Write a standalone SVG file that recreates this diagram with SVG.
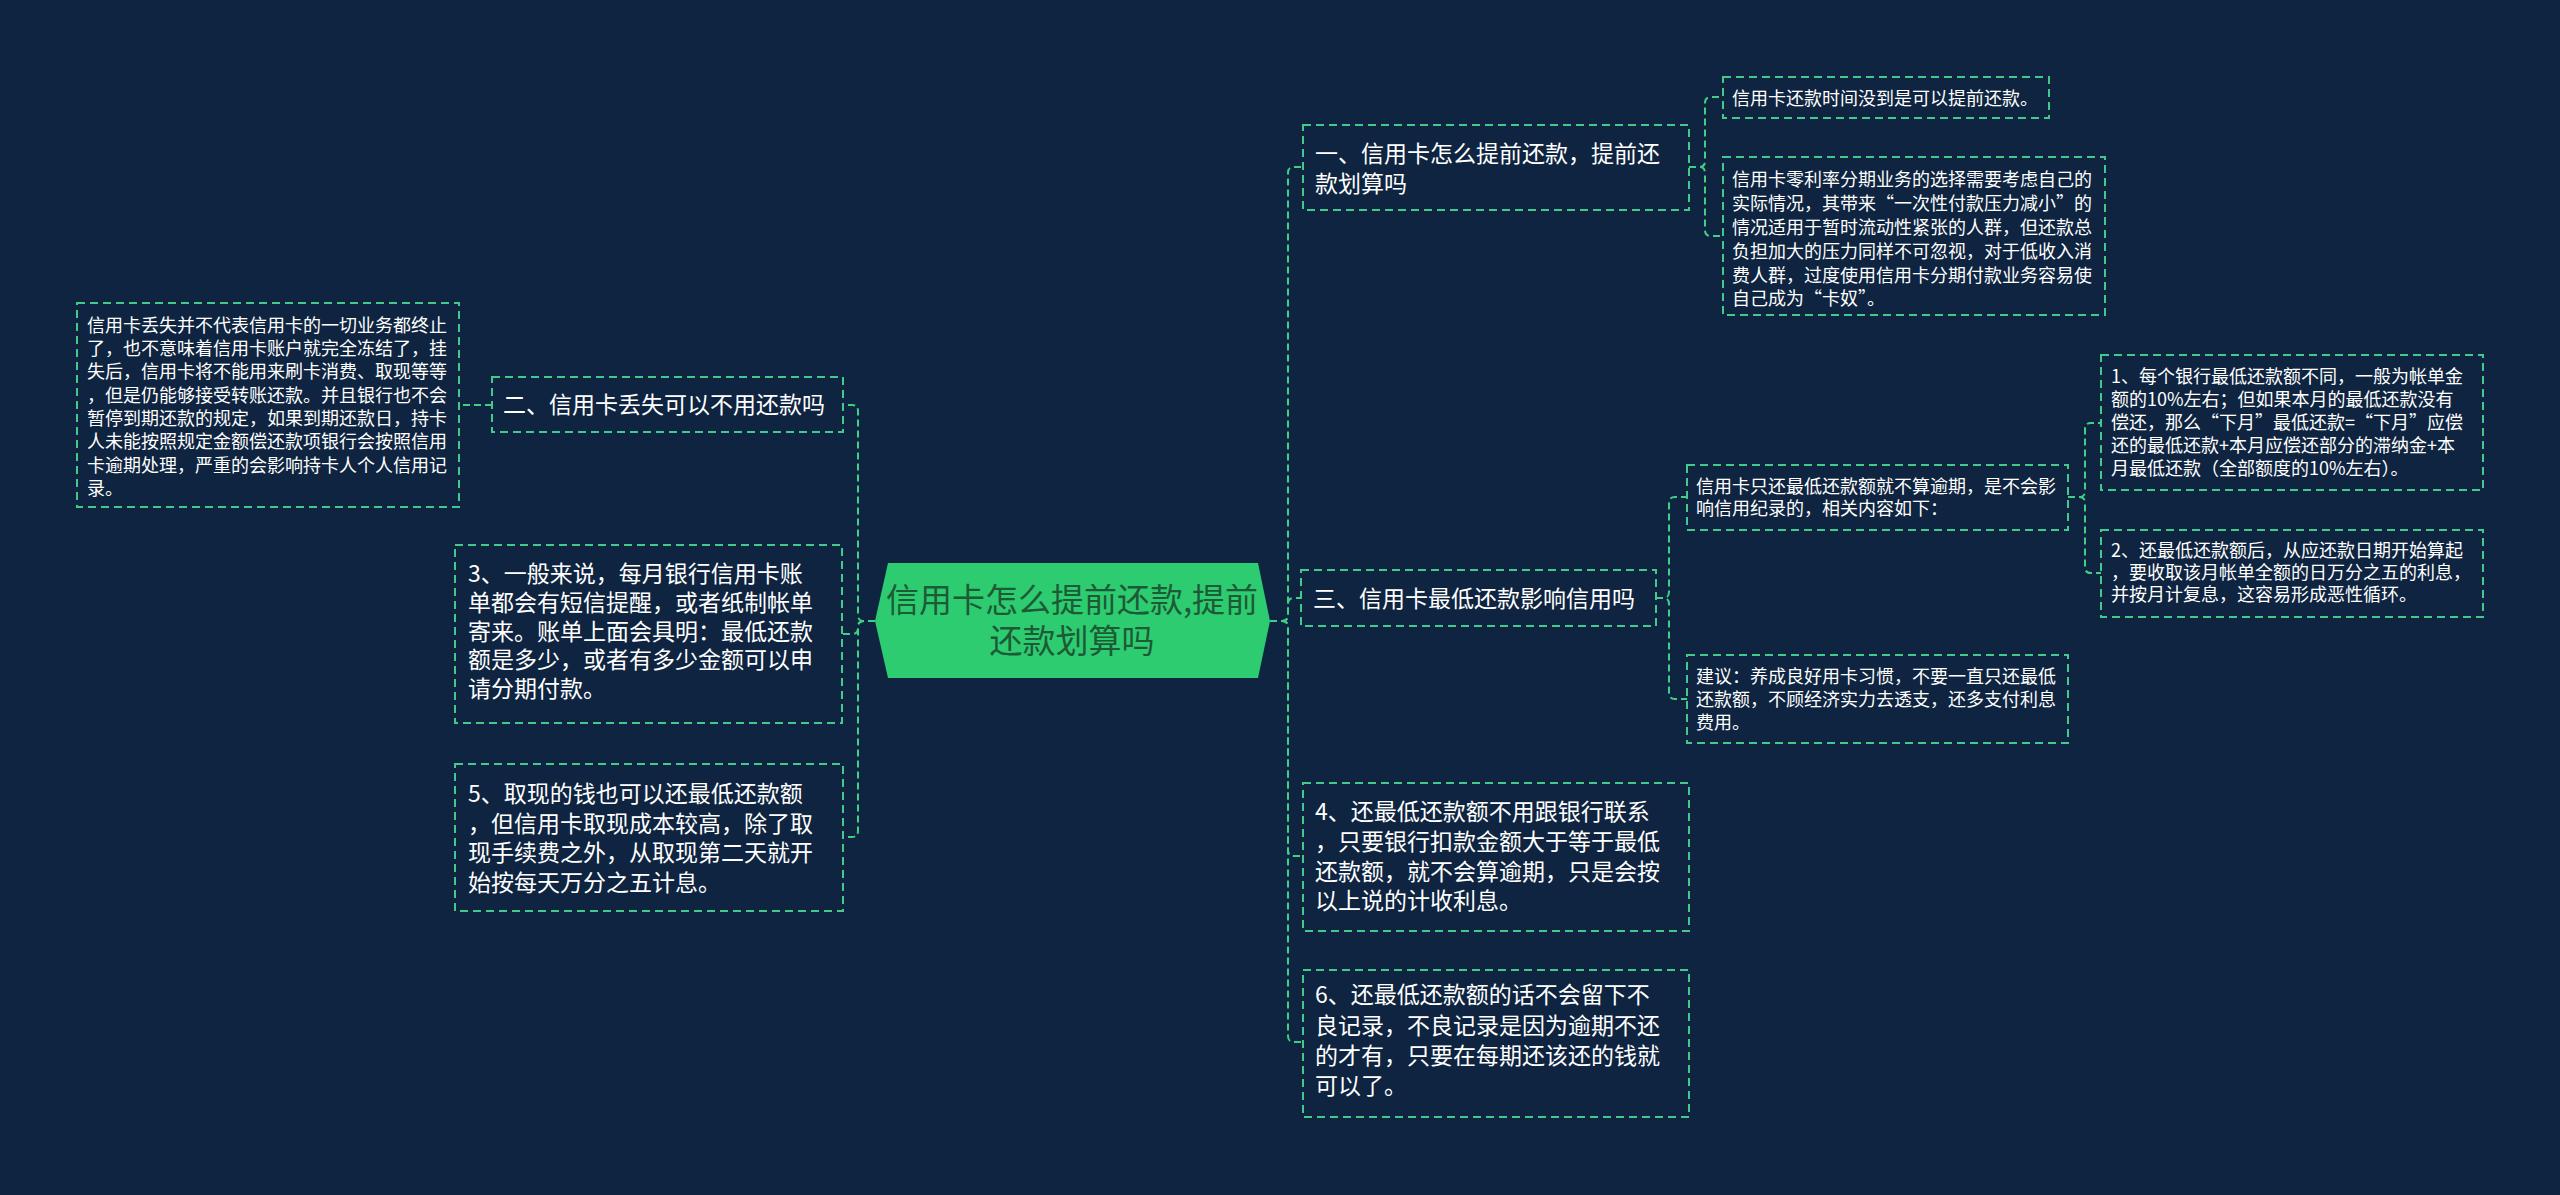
<svg xmlns="http://www.w3.org/2000/svg" width="2560" height="1195" viewBox="0 0 2560 1195">
<style>
.box{fill:#0e2440;stroke:#43c98a;stroke-width:2;stroke-dasharray:8 5}
.con{fill:none;stroke:#3fcf85;stroke-width:2;stroke-dasharray:7 4}
text{font-family:"Noto Sans CJK SC","Noto Sans",sans-serif;fill:#ffffff}
.t23{font-size:23px}
.t18{font-size:18px}
.ctr{font-size:33px;fill:#1d5a36;text-anchor:middle}
</style>
<rect x="0" y="0" width="2560" height="1195" fill="#0e2440"/>
<g id="connectors">
<path class="con" d="M875,621 H864 Q858,621 858,615 V411 Q858,405 852,405 H843"/>
<path class="con" d="M875,621 H864 Q858,621 858,627 V628 Q858,634 852,634 H842"/>
<path class="con" d="M875,621 H864 Q858,621 858,627 V831 Q858,837 852,837 H843"/>
<path class="con" d="M492,405 H459"/>
<path class="con" d="M1270,621 H1282 Q1288,621 1288,615 V173 Q1288,167 1294,167 H1303"/>
<path class="con" d="M1270,621 H1282 Q1288,621 1288,615 V604 Q1288,598 1294,598 H1301"/>
<path class="con" d="M1270,621 H1282 Q1288,621 1288,627 V850 Q1288,856 1294,856 H1303"/>
<path class="con" d="M1270,621 H1282 Q1288,621 1288,627 V1036 Q1288,1042 1294,1042 H1303"/>
<path class="con" d="M1689,167 H1699 Q1705,167 1705,161 V103 Q1705,97 1711,97 H1723"/>
<path class="con" d="M1689,167 H1699 Q1705,167 1705,173 V230 Q1705,236 1711,236 H1723"/>
<path class="con" d="M1656,598 H1663 Q1669,598 1669,592 V503 Q1669,497 1675,497 H1687"/>
<path class="con" d="M1656,598 H1663 Q1669,598 1669,604 V693 Q1669,699 1675,699 H1687"/>
<path class="con" d="M2068,497 H2079 Q2085,497 2085,491 V429 Q2085,423 2091,423 H2101"/>
<path class="con" d="M2068,497 H2079 Q2085,497 2085,503 V567 Q2085,573 2091,573 H2101"/>
</g>
<g id="center">
<polygon points="875,621 888,563 1258,563 1270,621 1258,678 888,678" fill="#2ecc71"/>
<text class="ctr" x="1072" y="612">信用卡怎么提前还款,提前</text>
<text class="ctr" x="1072" y="653">还款划算吗</text>
</g>
<g id="n2">
<rect class="box" x="492" y="377" width="351" height="55"/>
<text class="t23" x="503" y="413">二、信用卡丢失可以不用还款吗</text>
</g>
<g id="n2a">
<rect class="box" x="77" y="303" width="382" height="204"/>
<text class="t18" x="87"><tspan x="87" y="332">信用卡丢失并不代表信用卡的一切业务都终止</tspan><tspan x="87" y="355">了，也不意味着信用卡账户就完全冻结了，挂</tspan><tspan x="87" y="378">失后，信用卡将不能用来刷卡消费、取现等等</tspan><tspan x="87" y="402">，但是仍能够接受转账还款。并且银行也不会</tspan><tspan x="87" y="425">暂停到期还款的规定，如果到期还款日，持卡</tspan><tspan x="87" y="448">人未能按照规定金额偿还款项银行会按照信用</tspan><tspan x="87" y="472">卡逾期处理，严重的会影响持卡人个人信用记</tspan><tspan x="87" y="495">录。</tspan></text>
</g>
<g id="n3">
<rect class="box" x="455" y="545" width="387" height="178"/>
<text class="t23"><tspan x="468" y="582">3、一般来说，每月银行信用卡账</tspan><tspan x="468" y="611">单都会有短信提醒，或者纸制帐单</tspan><tspan x="468" y="640">寄来。账单上面会具明：最低还款</tspan><tspan x="468" y="668">额是多少，或者有多少金额可以申</tspan><tspan x="468" y="697">请分期付款。</tspan></text>
</g>
<g id="n5">
<rect class="box" x="455" y="764" width="388" height="147"/>
<text class="t23"><tspan x="468" y="802">5、取现的钱也可以还最低还款额</tspan><tspan x="468" y="832">，但信用卡取现成本较高，除了取</tspan><tspan x="468" y="861">现手续费之外，从取现第二天就开</tspan><tspan x="468" y="891">始按每天万分之五计息。</tspan></text>
</g>
<g id="n1">
<rect class="box" x="1303" y="125" width="386" height="85"/>
<text class="t23"><tspan x="1315" y="162">一、信用卡怎么提前还款，提前还</tspan><tspan x="1315" y="192">款划算吗</tspan></text>
</g>
<g id="n1a">
<rect class="box" x="1723" y="77" width="326" height="41"/>
<text class="t18" x="1732" y="105">信用卡还款时间没到是可以提前还款。</text>
</g>
<g id="n1b">
<rect class="box" x="1723" y="157" width="382" height="158"/>
<text class="t18"><tspan x="1732" y="186">信用卡零利率分期业务的选择需要考虑自己的</tspan><tspan x="1732" y="210">实际情况，其带来“一次性付款压力减小”的</tspan><tspan x="1732" y="234">情况适用于暂时流动性紧张的人群，但还款总</tspan><tspan x="1732" y="258">负担加大的压力同样不可忽视，对于低收入消</tspan><tspan x="1732" y="282">费人群，过度使用信用卡分期付款业务容易使</tspan><tspan x="1732" y="305">自己成为“卡奴”。</tspan></text>
</g>
<g id="n3r">
<rect class="box" x="1301" y="570" width="355" height="56"/>
<text class="t23" x="1313" y="607">三、信用卡最低还款影响信用吗</text>
</g>
<g id="n3ra">
<rect class="box" x="1687" y="465" width="381" height="65"/>
<text class="t18"><tspan x="1696" y="493">信用卡只还最低还款额就不算逾期，是不会影</tspan><tspan x="1696" y="515">响信用纪录的，相关内容如下：</tspan></text>
</g>
<g id="n3rb">
<rect class="box" x="1687" y="655" width="381" height="88"/>
<text class="t18"><tspan x="1696" y="683">建议：养成良好用卡习惯，不要一直只还最低</tspan><tspan x="1696" y="706">还款额，不顾经济实力去透支，还多支付利息</tspan><tspan x="1696" y="729">费用。</tspan></text>
</g>
<g id="g1">
<rect class="box" x="2101" y="355" width="382" height="135"/>
<text class="t18"><tspan x="2111" y="383">1、每个银行最低还款额不同，一般为帐单金</tspan><tspan x="2111" y="406">额的10%左右；但如果本月的最低还款没有</tspan><tspan x="2111" y="429">偿还，那么“下月”最低还款=“下月”应偿</tspan><tspan x="2111" y="452">还的最低还款+本月应偿还部分的滞纳金+本</tspan><tspan x="2111" y="475">月最低还款（全部额度的10%左右）。</tspan></text>
</g>
<g id="g2">
<rect class="box" x="2101" y="530" width="382" height="87"/>
<text class="t18"><tspan x="2111" y="557">2、还最低还款额后，从应还款日期开始算起</tspan><tspan x="2111" y="579">，要收取该月帐单全额的日万分之五的利息，</tspan><tspan x="2111" y="601">并按月计复息，这容易形成恶性循环。</tspan></text>
</g>
<g id="n4">
<rect class="box" x="1303" y="783" width="386" height="148"/>
<text class="t23"><tspan x="1315" y="820">4、还最低还款额不用跟银行联系</tspan><tspan x="1315" y="850">，只要银行扣款金额大于等于最低</tspan><tspan x="1315" y="880">还款额，就不会算逾期，只是会按</tspan><tspan x="1315" y="909">以上说的计收利息。</tspan></text>
</g>
<g id="n6">
<rect class="box" x="1303" y="970" width="386" height="147"/>
<text class="t23"><tspan x="1315" y="1003">6、还最低还款额的话不会留下不</tspan><tspan x="1315" y="1034">良记录，不良记录是因为逾期不还</tspan><tspan x="1315" y="1064">的才有，只要在每期还该还的钱就</tspan><tspan x="1315" y="1094">可以了。</tspan></text>
</g>
</svg>
